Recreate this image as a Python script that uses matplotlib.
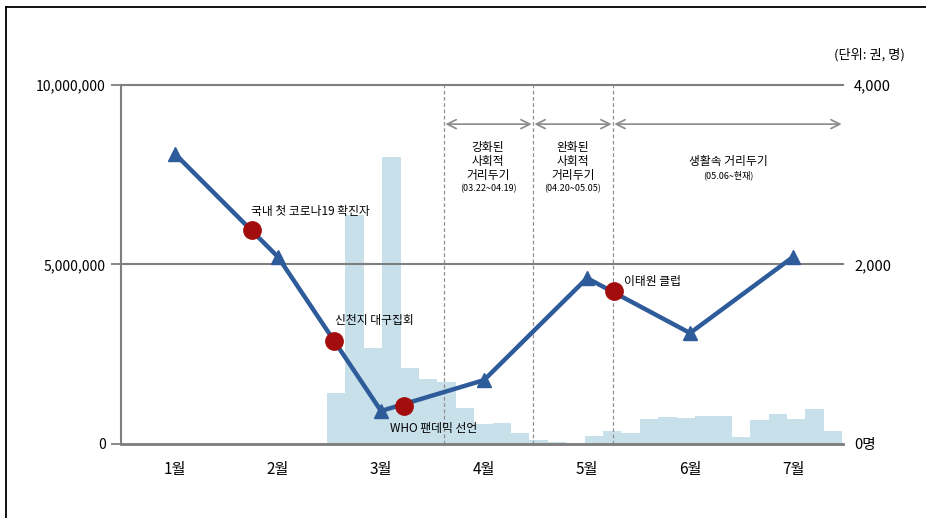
import numpy as np
import matplotlib
matplotlib.use("Agg")
import matplotlib.pyplot as plt
from matplotlib.lines import Line2D

plt.rcParams['font.family'] = ['Noto Sans CJK KR', 'DejaVu Sans']

# 월별 추이 (권)
months = ['1월', '2월', '3월', '4월', '5월', '6월', '7월']
books = [8080000, 5210000, 920000, 1780000, 4620000, 3090000, 5210000]

# 확진자 수 (명), 2월 중순부터 구간별
cases = [568, 2551, 1070, 3198, 847, 724, 691, 401, 223, 237, 126, 45, 22, 0,
         89, 145, 126, 282, 297, 293, 309, 309, 75, 271, 331, 279, 390, 145]
cases_start = 1.476

# 주요 사건
events = ['국내 첫 코로나19 확진자', '신천지 대구집회', 'WHO 팬데믹 선언', '이태원 클럽']
event_x = [0.748, 1.544, 2.223, 4.262]
event_y = [5950000, 2860000, 1050000, 4270000]

# 거리두기 구간 경계
phase_x = [2.612, 3.476, 4.252, 6.485]

LINE = '#2e5b9a'
RED = '#a30d0d'
BAR = '#c8e0ea'
GRAY = '#7f7f7f'

fig = plt.figure(figsize=(9.26, 5.18), dpi=100)
ax = fig.add_axes([0.1307, 0.1429, 0.7797, 0.693])
axb = ax.twinx()
ax.set_zorder(axb.get_zorder() + 1)
ax.patch.set_visible(False)

# 확진자 막대
w = 5 / len(cases)
xs = cases_start + np.arange(len(cases)) * w
axb.bar(xs, cases, width=w, align='edge', color=BAR, linewidth=0)
axb.set_ylim(0, 4000)
axb.set_yticks([0, 2000, 4000])
axb.set_yticklabels(['0명', '2,000', '4,000'], fontsize=10.5)
axb.tick_params(axis='y', length=0, pad=8)

# 보조선
for v in [5000000, 10000000]:
    ax.axhline(v, color=GRAY, lw=1.5, zorder=1, clip_on=False)
for x in phase_x[:-1]:
    ax.plot([x, x], [0, 10000000], color='#909090', lw=0.9, ls=(0, (3, 2)), zorder=1)

# 구간 화살표
ya = 8910000
for a, b in zip(phase_x[:-1], phase_x[1:]):
    ax.annotate('', xy=(b, ya), xytext=(a, ya),
                arrowprops=dict(arrowstyle='<->', color='#8a8a8a', lw=1.2,
                                mutation_scale=16, shrinkA=1, shrinkB=1))

# 추이 선
xm = np.arange(len(months))
ax.plot(xm, books, color=LINE, lw=3.2, marker='^', markersize=10, zorder=3)
ax.plot(event_x, event_y, 'o', color=RED, markersize=12.5, zorder=4)

ax.set_xlim(-0.524, 6.485)
ax.set_ylim(0, 10000000)
ax.set_xticks(xm)
ax.set_xticklabels(months, fontsize=11)
ax.tick_params(axis='x', length=0, pad=12)
ax.set_yticks([0, 5000000, 10000000])
ax.set_yticklabels([f'{v:,}' for v in [0, 5000000, 10000000]], fontsize=10)
ax.tick_params(axis='y', length=7, width=1.3, color=GRAY, pad=4)

for a in (ax, axb):
    for s in ['top', 'right']:
        a.spines[s].set_visible(False)
    a.spines['left'].set_color(GRAY)
    a.spines['bottom'].set_color(GRAY)
    a.spines['left'].set_linewidth(1.5)
    a.spines['bottom'].set_linewidth(1.8)
axb.spines['left'].set_visible(False)

# 사건 라벨
fs = 8.5
ax.text(1.311, 6490000, events[0], ha='center', va='center', fontsize=fs)
ax.text(1.932, 3450000, events[1], ha='center', va='center', fontsize=fs)
ax.text(2.515, 420000, events[2], ha='center', va='center', fontsize=fs)
ax.text(4.359, 4540000, events[3], ha='left', va='center', fontsize=fs)

# 구간 설명
for cx, lines, date in [(3.039, ['강화된', '사회적', '거리두기'], '(03.22~04.19)'),
                        (3.864, ['완화된', '사회적', '거리두기'], '(04.20~05.05)')]:
    for i, t in enumerate(lines):
        ax.text(cx, 8270000 - i * 390000, t, ha='center', va='center', fontsize=fs)
    ax.text(cx, 7100000, date, ha='center', va='center', fontsize=6.5)
ax.text(5.369, 7880000, '생활속 거리두기', ha='center', va='center', fontsize=fs)
ax.text(5.369, 7490000, '(05.06~현재)', ha='center', va='center', fontsize=6.5)

fig.text(0.977, 0.894, '(단위: 권, 명)', ha='right', va='center', fontsize=9.5)

# 테두리
fig.add_artist(Line2D([0.0065, 1], [0.9865, 0.9865], color='black', lw=1.3))
fig.add_artist(Line2D([0.0065, 0.0065], [0, 0.9865], color='black', lw=1.3))

fig.savefig('out.png', dpi=100)
